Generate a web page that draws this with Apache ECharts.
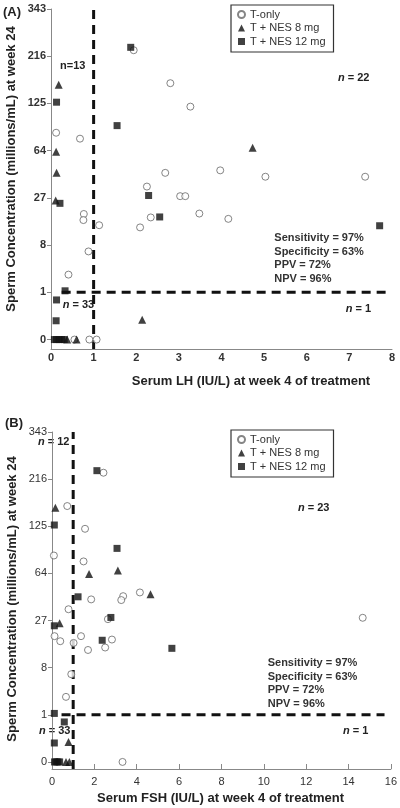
<!DOCTYPE html>
<html><head><meta charset="utf-8">
<script src="https://cdn.jsdelivr.net/npm/echarts@6/dist/echarts.min.js"></script>
<style>html,body{margin:0;padding:0;background:#fff}#c{width:400px;height:808px}</style>
</head><body><div id="c"></div>
<script>
// ---------- data ----------
const SERIES_NAMES = ['T-only', 'T + NES 8 mg', 'T + NES 12 mg'];
const Y_TICK_LABELS = [0, 1, 8, 27, 64, 125, 216, 343];   // sperm conc. (cube-root axis)
const THRESH_HORMONE = 1;   // IU/L
const THRESH_CONC = 1;      // millions/mL

// Panel A: [serum LH (IU/L), sperm concentration (millions/mL)]
const A_T_ONLY = [[1.94,230],[2.80,160],[3.27,120],[0.12,84],[0.68,77],[2.68,44],[2.25,34],[3.03,28],[3.15,28],
  [3.97,46],[5.03,41],[7.37,41],[3.48,19],[4.16,16.7],[0.77,18.8],[0.76,16.2],[1.13,14.2],[2.34,17.3],[2.09,13.4],
  [0.88,6.5],[0.41,2.6],[0.55,0],[0.90,0],[1.07,0]];
const A_NES8 = [[0.18,157],[0.12,63],[0.13,44],[0.11,25.6],[4.73,67],[2.14,0.075],[0.38,0],[0.60,0]];
const A_NES12 = [[1.87,237],[0.13,127],[1.55,93],[2.29,28.4],[0.21,24],[2.55,17.5],[7.71,14],[0.33,1.1],
  [0.13,0.59],[0.12,0.063],[0.08,0],[0.13,0],[0.19,0],[0.25,0],[0.31,0]];

// Panel B: [serum FSH (IU/L), sperm concentration (millions/mL)]
const B_T_ONLY = [[2.43,231],[0.72,160],[1.56,121],[0.09,84],[1.49,77],[1.85,41],[3.36,43.5],[3.27,40.5],
  [4.15,46.5],[0.78,34],[2.64,27.8],[0.12,19],[0.39,16.8],[1.02,16.1],[1.37,19],[2.83,17.5],[1.70,13.4],
  [2.51,14.3],[0.91,6.45],[0.66,2.63],[14.67,28.6],[3.33,0]];
const B_NES8 = [[0.16,157],[1.75,63.3],[3.11,67],[4.65,45],[0.36,25.5],[0.78,0.075],[0.66,0],[0.82,0]];
const B_NES12 = [[2.12,236],[0.11,127],[3.07,93],[1.23,43],[2.78,28.8],[0.11,24.1],[2.37,17.2],[5.66,14],
  [0.11,1.09],[0.58,0.61],[0.11,0.065],[0.12,0],[0.2,0],[0.28,0],[0.36,0]];

// ---------- chart ----------
const FONT = '"Liberation Sans", Arial, sans-serif';
const tr = arr => arr.map(d => [d[0], Math.cbrt(d[1])]);
const yTickVals = Y_TICK_LABELS.map(v => Math.cbrt(v));
const labelMap = {}; yTickVals.forEach((v, i) => labelMap[v.toFixed(4)] = String(Y_TICK_LABELS[i]));

function yAxis(idx, min, bold) {
  return {
    type: 'value', gridIndex: idx, min: min, max: 7,
    axisLine: { show: true, lineStyle: { color: '#888', width: 1 } },
    axisTick: { show: true, inside: false, length: 4, customValues: yTickVals, lineStyle: { color: '#888' } },
    axisLabel: { customValues: yTickVals, margin: 5, fontSize: 11, fontFamily: FONT,
      fontWeight: bold ? 'bold' : 'normal', color: '#333',
      formatter: v => labelMap[Number(v).toFixed(4)] || '' },
    splitLine: { show: false }
  };
}
function xAxis(idx, max, interval, bold, showTick, margin) {
  return {
    type: 'value', gridIndex: idx, min: 0, max: max, interval: interval,
    axisLine: { show: true, onZero: false, lineStyle: { color: '#888', width: 1 } },
    axisTick: { show: showTick, inside: true, length: 5, lineStyle: { color: '#888' } },
    axisLabel: { margin: margin, fontSize: 11, fontFamily: FONT, fontWeight: bold ? 'bold' : 'normal', color: '#333' },
    splitLine: { show: false }
  };
}
const styles = [
  { symbol: 'circle', symbolSize: 7, itemStyle: { color: '#fff', borderColor: '#666', borderWidth: 1 } },
  { symbol: 'triangle', symbolSize: 8, itemStyle: { color: '#111' } },
  { symbol: 'rect', symbolSize: 7, itemStyle: { color: '#111' } }
];
function scatters(idx, sets) {
  return sets.map((s, i) => Object.assign({
    type: 'scatter', name: SERIES_NAMES[i], xAxisIndex: idx, yAxisIndex: idx,
    data: tr(s), z: 3, emphasis: { disabled: true }
  }, JSON.parse(JSON.stringify(styles[i]))));
}
function dash(idx, pts) {
  return { type: 'line', xAxisIndex: idx, yAxisIndex: idx, data: pts, symbol: 'none', silent: true, z: 2,
    lineStyle: { color: '#111', width: 3, type: [9, 6] } };
}
function legend(top) {
  return {
    data: SERIES_NAMES, orient: 'vertical', left: 231, top: top, padding: [4, 8, 5, 6],
    itemWidth: 7, itemHeight: 7, itemGap: 2.5, borderColor: '#333', borderWidth: 1.2,
    textStyle: { fontSize: 11, fontFamily: FONT, color: '#333' }, selectedMode: false
  };
}
function txt(x, y, text, size, extra) {
  return Object.assign({ type: 'text', x: x, y: y, silent: true,
    style: Object.assign({ text: text, fill: '#222', fontSize: size || 11, fontWeight: 'bold', fontFamily: FONT,
      textAlign: 'left', textVerticalAlign: 'middle',
      rich: { i: { fontStyle: 'italic', fontWeight: 'bold', fontSize: size || 11, fontFamily: FONT, fill: '#222' } } }, extra || {}) });
}
const STATS = 'Sensitivity = 97%\nSpecificity = 63%\nPPV = 72%\nNPV = 96%';

const option = {
  animation: false,
  backgroundColor: '#fff',
  grid: [
    { left: 51, top: 9, width: 341, height: 340 },
    { left: 52, top: 432, width: 339, height: 337 }
  ],
  xAxis: [ xAxis(0, 8, 1, true, false, 3), xAxis(1, 16, 2, false, true, 7) ],
  yAxis: [ yAxis(0, -0.2, true), yAxis(1, -0.15, false) ],
  legend: [ legend(5), legend(430) ],
  series: [].concat(
    scatters(0, [A_T_ONLY, A_NES8, A_NES12]),
    scatters(1, [B_T_ONLY, B_NES8, B_NES12]),
    [ dash(0, [[THRESH_HORMONE, -0.2], [THRESH_HORMONE, 7.2]]),
      dash(0, [[0.25, THRESH_CONC], [7.85, THRESH_CONC]]),
      dash(1, [[THRESH_HORMONE, -0.15], [THRESH_HORMONE, 7]]),
      dash(1, [[0.45, THRESH_CONC], [15.7, THRESH_CONC]]) ]
  ),
  graphic: [
    txt(3, 12.5, '(A)', 13),
    txt(5, 423, '(B)', 13),
    { type: 'text', x: 11.5, y: 169, rotation: Math.PI / 2, silent: true,
      style: { text: 'Sperm Concentration (millions/mL) at week 24', fill: '#222', fontSize: 13, fontWeight: 'bold',
        fontFamily: FONT, textAlign: 'center', textVerticalAlign: 'middle' } },
    { type: 'text', x: 12, y: 599, rotation: Math.PI / 2, silent: true,
      style: { text: 'Sperm Concentration (millions/mL) at week 24', fill: '#222', fontSize: 13, fontWeight: 'bold',
        fontFamily: FONT, textAlign: 'center', textVerticalAlign: 'middle' } },
    txt(251, 381, 'Serum LH (IU/L) at week 4 of treatment', 13, { textAlign: 'center' }),
    txt(220.5, 798, 'Serum FSH (IU/L) at week 4 of treatment', 13, { textAlign: 'center' }),
    txt(60, 66, 'n=13'),
    txt(338, 77.7, '{i|n} = 22'),
    txt(62.7, 305, '{i|n} = 33'),
    txt(345.7, 309.3, '{i|n} = 1'),
    txt(274.3, 231, STATS, 11, { textVerticalAlign: 'top', lineHeight: 13.7, fill: '#333' }),
    txt(38, 442, '{i|n} = 12'),
    txt(298, 508, '{i|n} = 23'),
    txt(39, 730.7, '{i|n} = 33'),
    txt(343, 730.7, '{i|n} = 1'),
    txt(267.7, 656, STATS, 11, { textVerticalAlign: 'top', lineHeight: 13.7, fill: '#333' })
  ]
};
const chart = echarts.init(document.getElementById('c'), null, { renderer: 'canvas' });
chart.setOption(option);
</script>
</body></html>
